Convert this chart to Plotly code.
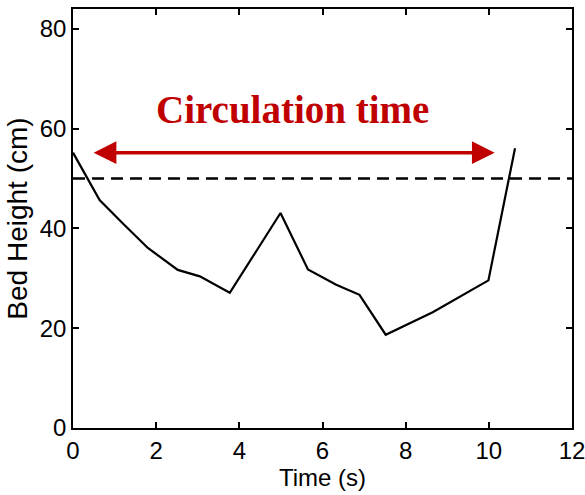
import plotly.graph_objects as go

time_s = [0.0, 0.64, 1.2, 1.8, 2.52, 3.05, 3.77, 4.99, 5.65, 6.33, 6.89, 7.52, 8.65, 9.99, 10.63]
bed_height = [55.2, 45.7, 41.0, 36.1, 31.7, 30.4, 27.1, 43.1, 31.8, 28.7, 26.7, 18.7, 23.2, 29.6, 56.1]
threshold = 50
x_range = [0, 12]
y_range = [0, 84]
x_ticks = [0, 2, 4, 6, 8, 10, 12]
y_ticks = [0, 20, 40, 60, 80]
arrow_start, arrow_end, arrow_y = 0.46, 10.14, 55.2
label_text = "Circulation time"
label_x, label_y = 5.28, 63.8

tick_font = dict(family="Liberation Sans", size=24, color="black")

fig = go.Figure()
fig.add_trace(go.Scatter(x=time_s, y=bed_height, mode="lines",
                         line=dict(color="black", width=2.2), showlegend=False))
fig.add_trace(go.Scatter(x=x_range, y=[threshold, threshold], mode="lines",
                         line=dict(color="black", width=2.5, dash="12px,7px"), showlegend=False))

fig.add_annotation(x=arrow_end, y=arrow_y, ax=arrow_start, ay=arrow_y,
                   xref="x", yref="y", axref="x", ayref="y", text="",
                   showarrow=True, arrowhead=2, arrowside="end+start",
                   arrowsize=1.3, arrowwidth=3.5, arrowcolor="#C00000", standoff=0, startstandoff=0)
fig.add_annotation(x=label_x, y=label_y, xref="x", yref="y", text="<b>" + label_text + "</b>",
                   showarrow=False, font=dict(family="Liberation Serif", size=39, color="#C00000"))

axis_common = dict(showline=True, linecolor="black", linewidth=1.5, mirror="ticks",
                   ticks="inside", ticklen=6, tickcolor="black", tickwidth=1.5,
                   showgrid=False, zeroline=False, automargin=False, tickfont=tick_font,
                   ticklabeloverflow="allow")
fig.update_xaxes(range=x_range, tickvals=x_ticks, title=dict(text="Time (s)", standoff=2,
                 font=tick_font), **axis_common)
fig.update_yaxes(range=y_range, tickvals=y_ticks, title=dict(text="Bed Height (cm)", standoff=4,
                 font=dict(family="Liberation Sans", size=28, color="black")), **axis_common)

fig.update_layout(width=585, height=495, margin=dict(l=73, r=13, t=9, b=67),
                  plot_bgcolor="white", paper_bgcolor="white")
fig.write_html("out.html")
